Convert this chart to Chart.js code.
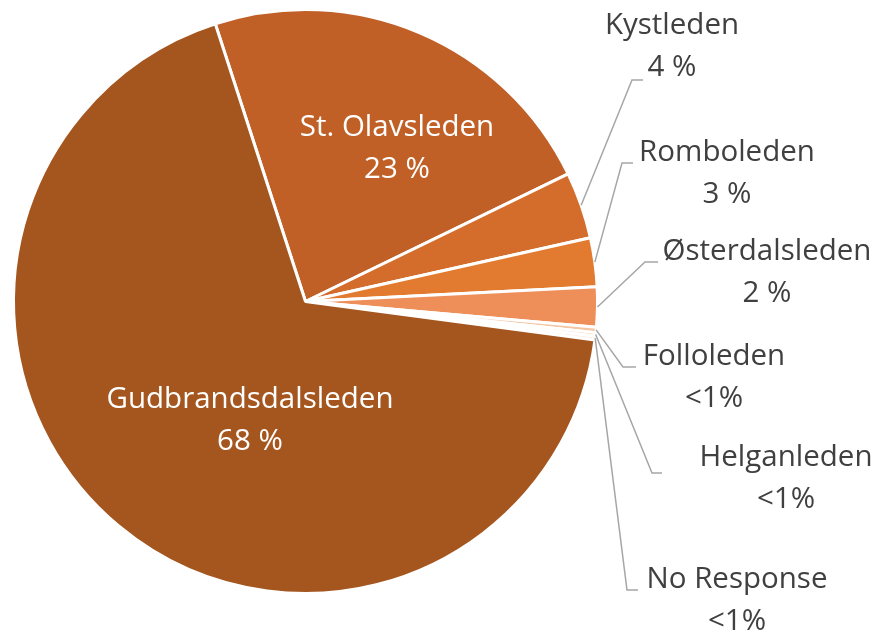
<!DOCTYPE html>
<html>
<head>
<meta charset="utf-8">
<script src="https://cdn.jsdelivr.net/npm/chart.js@4/dist/chart.umd.min.js"></script>
<style>
html,body{margin:0;padding:0;background:#fff;}
#wrap{width:883px;height:641px;position:relative;}
</style>
</head>
<body>
<div id="wrap"><canvas id="c" width="883" height="641"></canvas></div>
<script>
// ---- data ----
const categories = ["St. Olavsleden","Kystleden","Romboleden","Østerdalsleden","Folloleden","Helganleden","No Response","Gudbrandsdalsleden"];
const shares = [22.8, 3.7, 2.7, 2.2, 0.3, 0.2, 0.2, 67.9];
const shareLabels = ["23 %","4 %","3 %","2 %","<1%","<1%","<1%","68 %"];

// ---- styling / layout ----
const colors = ["#C06027","#D46D2B","#E27A2F","#EE8E59","#F5C4A0","#F8D6BE","#FBE3D2","#A5561F"];
const FONT = '"Open Sans", "Noto Sans", sans-serif';
const FSIZE = 29.5;
const LINE_GAP = 42;
// label placement: inside labels -> text centre; outside -> text centre + leader elbow
const labelLayout = [
  {inside:true, x:397, y:128},
  {x:672, y:26, elbow:[632,80], end:[643,80]},
  {x:727, y:153, elbow:[622,163], end:[633,163]},
  {x:767, y:252, elbow:[645,262], end:[658,262]},
  {x:714, y:357, elbow:[623,367], end:[636,367]},
  {x:786, y:458, elbow:[652,473], end:[662,473]},
  {x:737, y:580, elbow:[627,590], end:[638,590]},
  {inside:true, x:250, y:400}
];

const labelPlugin = {
  id:'pieLabels',
  afterDatasetsDraw(chart){
    const ctx = chart.ctx;
    const meta = chart.getDatasetMeta(0);
    ctx.save();
    ctx.font = FSIZE + 'px ' + FONT;
    ctx.textAlign = 'center';
    ctx.textBaseline = 'middle';
    meta.data.forEach((arc, i) => {
      const L = labelLayout[i];
      const p = arc.getProps(['x','y','startAngle','endAngle','outerRadius'], true);
      if (!L.inside) {
        const mid = (p.startAngle + p.endAngle) / 2;
        const sx = p.x + Math.cos(mid) * p.outerRadius;
        const sy = p.y + Math.sin(mid) * p.outerRadius;
        ctx.strokeStyle = '#A6A6A6';
        ctx.lineWidth = 1.5;
        ctx.beginPath();
        ctx.moveTo(sx, sy);
        ctx.lineTo(L.elbow[0], L.elbow[1]);
        ctx.lineTo(L.end[0], L.end[1]);
        ctx.stroke();
        ctx.fillStyle = '#404040';
      } else {
        ctx.fillStyle = '#FFFFFF';
      }
      ctx.fillText(categories[i], L.x, L.y);
      ctx.fillText(shareLabels[i], L.x, L.y + LINE_GAP);
    });
    ctx.restore();
  }
};

new Chart(document.getElementById('c'), {
  type:'pie',
  data:{
    labels: categories,
    datasets:[{
      data: shares,
      backgroundColor: colors,
      borderColor:'#FFFFFF',
      borderWidth:3,
      borderAlign:'center'
    }]
  },
  options:{
    responsive:false,
    animation:false,
    rotation:-18,
    layout:{padding:{left:12,right:284,top:8,bottom:46}},
    plugins:{legend:{display:false}, tooltip:{enabled:false}}
  },
  plugins:[labelPlugin]
});
</script>
</body>
</html>
